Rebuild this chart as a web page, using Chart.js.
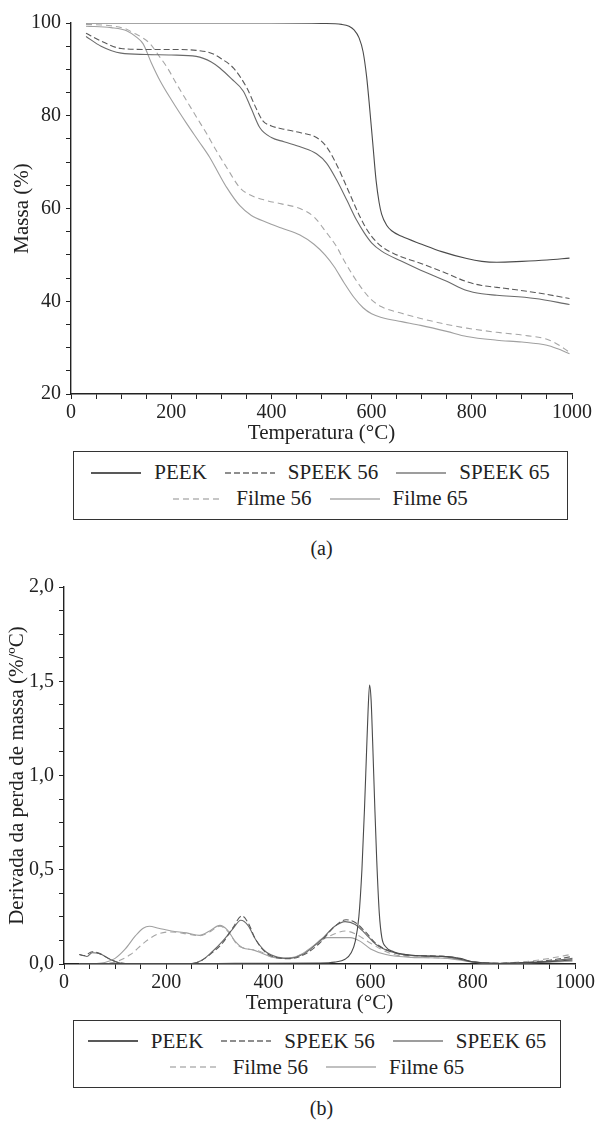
<!DOCTYPE html>
<html>
<head>
<meta charset="utf-8">
<script src="https://cdn.jsdelivr.net/npm/chart.js@4/dist/chart.umd.min.js"></script>
<style>
  body { margin: 0; background: #fff; width: 597px; height: 1123px; position: relative; overflow: hidden;
         font-family: "Liberation Serif", "Times New Roman", serif; color: #222; }
  canvas { position: absolute; left: 0; }
  .legend { position: absolute; border: 1.5px solid #333; box-sizing: border-box; font-size: 21px;
            display: flex; flex-direction: column; justify-content: center; }
  .row { display: flex; justify-content: center; align-items: center; height: 26px; }
  .item { display: flex; align-items: center; margin: 0 9px; }
  .item svg { margin-right: 13px; }
  .cap { position: absolute; left: 0; width: 643px; text-align: center; font-size: 20px; }
</style>
</head>
<body>
<canvas id="tga" width="597" height="446" style="top:0px"></canvas>
<div class="legend" id="legTga" style="left:73px; top:451px; width:495px; height:69px"></div>
<div class="cap" style="top:537px">(a)</div>

<canvas id="dtg" width="597" height="446" style="top:570px"></canvas>
<div class="legend" id="legDtg" style="left:73px; top:1020px; width:488px; height:68px"></div>
<div class="cap" style="top:1097px">(b)</div>

<script>
// nomes das amostras
const seriesNames = ['PEEK', 'SPEEK 56', 'SPEEK 65', 'Filme 56', 'Filme 65'];
const seriesColors = ['#4a4a4a', '#5a5a5a', '#6a6a6a', '#a6a6a6', '#a0a0a0'];
const legendColors = ['#222222', '#6a6a6a', '#7c7c7c', '#b4b4b4', '#ababab'];
const seriesDashes = [[], [6, 3], [], [6, 4], []];

// (a) TGA - massa (%) x temperatura
const tgaPeekT = [30, 100, 200, 300, 400, 500, 540, 555, 565, 575, 583, 590, 595, 602, 609, 615, 620, 630, 640, 660, 700, 740, 790, 820, 850, 900, 950, 995];
const tgaPeekM = [100, 100, 100, 100, 100, 99.9, 99.7, 99.3, 98.5, 96.8, 93.8, 88.5, 83, 74.5, 66, 61.3, 58.8, 56.4, 55.2, 54, 52.3, 50.7, 49.2, 48.6, 48.4, 48.6, 48.9, 49.3];

const tgaSpeek56T = [30, 60, 100, 150, 200, 250, 280, 300, 325, 351, 370, 383, 400, 425, 460, 490, 510, 530, 551, 570, 585, 600, 620, 650, 700, 750, 790, 820, 850, 926, 995];
const tgaSpeek56M = [97.8, 96.1, 94.5, 94.3, 94.3, 94.1, 93.5, 92.3, 90.2, 86, 81.5, 78.9, 77.8, 77.1, 76.3, 75.3, 73.3, 69.5, 64.5, 59.8, 56.5, 54, 51.8, 50, 48.1, 46, 44.2, 43.4, 43, 41.9, 40.6];

const tgaSpeek65T = [30, 60, 100, 150, 200, 250, 280, 297, 320, 344, 360, 377, 400, 425, 460, 490, 510, 530, 551, 570, 585, 600, 620, 660, 698, 750, 790, 820, 850, 926, 995];
const tgaSpeek65M = [97.1, 95, 93.5, 93.2, 93.1, 92.8, 91.6, 90.3, 88, 85.3, 81.5, 77.4, 75.3, 74.4, 73.2, 71.8, 69.8, 66.2, 61.7, 57.5, 54.8, 52.6, 50.8, 48.6, 46.7, 44.3, 42.3, 41.6, 41.3, 40.6, 39.3];

const tgaFilme56T = [30, 80, 110, 124, 140, 158, 175, 192, 210, 231, 250, 271, 290, 311, 337, 360, 391, 420, 457, 485, 510, 530, 545, 565, 583, 600, 620, 660, 698, 750, 790, 850, 900, 950, 970, 995];
const tgaFilme56M = [99.7, 99.4, 98.7, 97.9, 97, 95.5, 93, 90.4, 87, 83.2, 79.8, 76.1, 72.5, 68.8, 64.5, 62.8, 61.7, 61, 60, 58.2, 54.8, 51.8, 48.8, 45.2, 42.4, 40.3, 38.8, 37.4, 36.3, 35, 34.2, 33.3, 32.7, 31.8, 30.8, 29];

const tgaFilme65T = [30, 80, 112, 130, 144, 160, 178, 200, 231, 255, 277, 295, 311, 337, 360, 391, 420, 457, 485, 507, 525, 545, 565, 583, 600, 620, 660, 698, 750, 790, 850, 900, 950, 970, 995];
const tgaFilme65M = [99.3, 99, 98.3, 97, 95.5, 91.5, 87.5, 83.5, 78.3, 74.5, 71, 67.5, 64.5, 60.6, 58.5, 57, 55.8, 54.3, 52.3, 50, 47.5, 44, 40.8, 38.6, 37.3, 36.5, 35.6, 34.8, 33.5, 32.4, 31.6, 31.2, 30.5, 29.8, 28.7];

// (b) DTG - derivada da perda de massa (%/ºC)
const dtgPeekT = [30, 100, 200, 300, 400, 500, 530, 550, 562, 570, 577, 583, 588, 592, 595, 598, 601, 604, 608, 612, 617, 622, 630, 645, 670, 710, 750, 775, 800, 850, 900, 950, 995];
const dtgPeekV = [0.003, 0.002, 0.002, 0.003, 0.004, 0.005, 0.01, 0.025, 0.06, 0.12, 0.25, 0.5, 0.82, 1.12, 1.34, 1.48, 1.4, 1.18, 0.85, 0.55, 0.27, 0.14, 0.09, 0.065, 0.05, 0.042, 0.04, 0.03, 0.012, 0.003, 0.006, 0.012, 0.022];

const dtgSpeek56T = [30, 40, 55, 70, 90, 110, 150, 250, 270, 290, 310, 330, 348, 360, 375, 395, 420, 440, 470, 500, 530, 552, 570, 590, 610, 640, 680, 740, 770, 800, 850, 900, 950, 995];
const dtgSpeek56V = [0.05, 0.045, 0.065, 0.055, 0.025, 0.005, 0, 0.002, 0.02, 0.06, 0.11, 0.19, 0.255, 0.22, 0.13, 0.06, 0.032, 0.028, 0.05, 0.11, 0.2, 0.235, 0.22, 0.17, 0.11, 0.065, 0.045, 0.042, 0.03, 0.012, 0.004, 0.008, 0.02, 0.04];

const dtgSpeek65T = [30, 45, 55, 70, 90, 110, 150, 250, 270, 290, 310, 330, 346, 360, 375, 395, 420, 440, 470, 500, 530, 550, 570, 590, 610, 640, 680, 740, 770, 800, 850, 900, 950, 995];
const dtgSpeek65V = [0.05, 0.04, 0.06, 0.055, 0.025, 0.005, 0, 0.003, 0.02, 0.065, 0.12, 0.185, 0.232, 0.205, 0.13, 0.065, 0.035, 0.03, 0.055, 0.12, 0.2, 0.225, 0.21, 0.16, 0.105, 0.065, 0.045, 0.04, 0.028, 0.01, 0.003, 0.006, 0.015, 0.03];

const dtgFilme56T = [30, 80, 100, 130, 160, 185, 210, 240, 265, 285, 305, 320, 340, 360, 380, 410, 440, 470, 500, 530, 550, 570, 600, 640, 700, 760, 800, 850, 900, 950, 995];
const dtgFilme56V = [0, 0.003, 0.01, 0.05, 0.12, 0.16, 0.17, 0.16, 0.15, 0.17, 0.2, 0.175, 0.1, 0.08, 0.07, 0.035, 0.03, 0.06, 0.12, 0.16, 0.175, 0.16, 0.11, 0.055, 0.035, 0.03, 0.012, 0.005, 0.012, 0.03, 0.052];

const dtgFilme65T = [30, 60, 80, 100, 120, 140, 155, 167, 185, 210, 240, 265, 285, 305, 320, 335, 350, 370, 385, 410, 430, 460, 490, 510, 530, 560, 580, 600, 630, 680, 750, 800, 850, 900, 950, 995];
const dtgFilme65V = [0, 0.002, 0.008, 0.03, 0.08, 0.15, 0.19, 0.2, 0.19, 0.175, 0.165, 0.152, 0.175, 0.205, 0.18, 0.12, 0.085, 0.075, 0.06, 0.035, 0.03, 0.045, 0.1, 0.14, 0.14, 0.14, 0.12, 0.08, 0.05, 0.035, 0.03, 0.01, 0.004, 0.006, 0.01, 0.015];

const FONT = '"Liberation Serif", "Times New Roman", serif';
const AXIS = '#222';
const CANVAS_H = 446;

function pares(t, v) {
  return t.map((x, i) => ({ x: x, y: v[i] }));
}

function montarDatasets(lista) {
  return lista.map((s, i) => ({
    label: seriesNames[i],
    data: pares(s[0], s[1]),
    borderColor: seriesColors[i],
    borderDash: seriesDashes[i],
    borderWidth: 1.1,
    pointRadius: 0,
    fill: false,
    cubicInterpolationMode: 'monotone'
  }));
}

function eixo(extra) {
  return Object.assign({
    type: 'linear',
    grid: { display: true, drawOnChartArea: false, drawTicks: true, tickLength: 5, tickColor: AXIS, tickWidth: 1 },
    border: { display: true, color: AXIS, width: 1.4 },
    ticks: { color: AXIS, font: { family: FONT, size: 20 }, autoSkip: false, maxRotation: 0 }
  }, extra);
}

function criarGrafico(id, datasets, yOpts, plot, yTitle, yTitlePad) {
  const ctx = document.getElementById(id).getContext('2d');
  return new Chart(ctx, {
    type: 'line',
    data: { datasets: datasets },
    options: {
      responsive: false,
      animation: false,
      layout: { padding: { left: 0, top: plot.top, right: 597 - plot.right, bottom: 0 } },
      plugins: { legend: { display: false }, tooltip: { enabled: false } },
      scales: {
        x: (function () {
          const a = eixo({ min: 0, max: 1000 });
          a.ticks.stepSize = 50;
          a.ticks.padding = 2;
          a.ticks.callback = (v) => (v % 200 === 0 ? String(v) : '');
          a.title = { display: true, text: 'Temperatura (°C)', color: AXIS, font: { family: FONT, size: 21 }, padding: { top: 0, bottom: 0 } };
          a.afterFit = (s) => { s.height = CANVAS_H - plot.bottom; };
          return a;
        })(),
        y: (function () {
          const a = eixo({ min: yOpts.min, max: yOpts.max });
          a.ticks.stepSize = yOpts.step;
          a.ticks.padding = 5;
          a.ticks.callback = yOpts.label;
          a.title = { display: true, text: yTitle, color: AXIS, font: { family: FONT, size: 21 }, padding: { top: yTitlePad, bottom: 0 } };
          a.afterFit = (s) => { s.width = plot.left; };
          return a;
        })()
      }
    }
  });
}

function montarLegenda(id) {
  const el = document.getElementById(id);
  [[0, 1, 2], [3, 4]].forEach((linha) => {
    const row = document.createElement('div');
    row.className = 'row';
    linha.forEach((i) => {
      const dash = seriesDashes[i].length ? ' stroke-dasharray="' + seriesDashes[i].join(' ') + '"' : '';
      const it = document.createElement('div');
      it.className = 'item';
      it.innerHTML = '<svg width="50" height="6"><line x1="0" y1="3" x2="50" y2="3" stroke="' + legendColors[i] +
        '" stroke-width="1.6"' + dash + '/></svg><span>' + seriesNames[i] + '</span>';
      row.appendChild(it);
    });
    el.appendChild(row);
  });
}

criarGrafico('tga', montarDatasets([
  [tgaPeekT, tgaPeekM], [tgaSpeek56T, tgaSpeek56M], [tgaSpeek65T, tgaSpeek65M],
  [tgaFilme56T, tgaFilme56M], [tgaFilme65T, tgaFilme65M]
]), {
  min: 20, max: 100, step: 5,
  label: (v) => (v % 20 === 0 ? String(v) : '')
}, { left: 71, right: 572, top: 23, bottom: 394 }, 'Massa (%)', 10);

criarGrafico('dtg', montarDatasets([
  [dtgPeekT, dtgPeekV], [dtgSpeek56T, dtgSpeek56V], [dtgSpeek65T, dtgSpeek65V],
  [dtgFilme56T, dtgFilme56V], [dtgFilme65T, dtgFilme65V]
]), {
  min: 0, max: 2, step: 0.125,
  label: (v) => (Math.abs(v * 2 - Math.round(v * 2)) < 1e-6 ? v.toFixed(1).replace('.', ',') : '')
}, { left: 64, right: 577, top: 17, bottom: 394 }, 'Derivada da perda de massa (%/ºC)', 5);

montarLegenda('legTga');
montarLegenda('legDtg');
</script>
</body>
</html>
